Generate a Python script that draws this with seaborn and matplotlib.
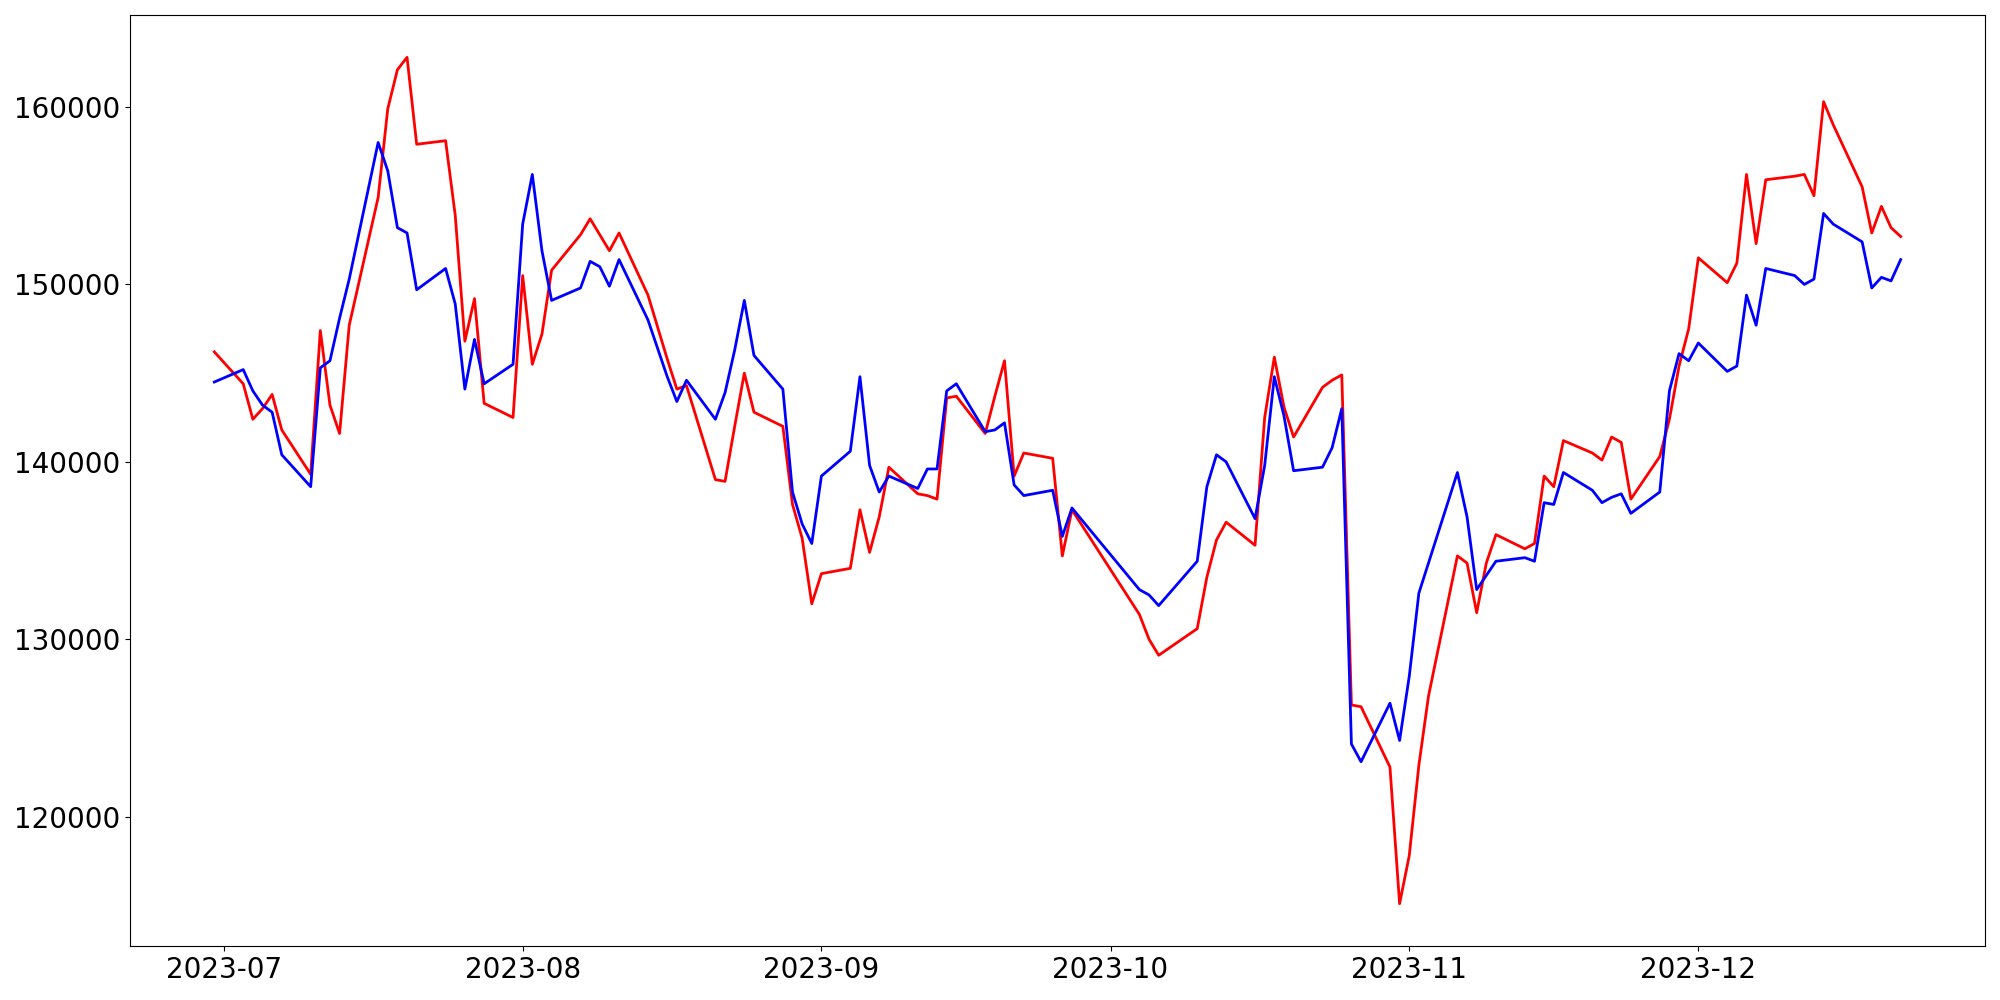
import seaborn as sns
import matplotlib
matplotlib.use("Agg")
import matplotlib.pyplot as plt
import pandas as pd
import numpy as np

# trading days (KRX calendar, holidays left out)
holidays = ["2023-08-15", "2023-09-28", "2023-09-29", "2023-10-02",
            "2023-10-03", "2023-10-09"]
dates = pd.bdate_range("2023-06-30", "2023-12-22")
dates = dates[~dates.isin(pd.to_datetime(holidays))]

red_vals = [
    146200,
    144400, 142400, 143000, 143800, 141800, 139300, 147400, 143200, 141600, 147700,
    154900, 159900, 162100, 162800, 157900, 158100, 153900, 146800, 149200, 143300,
    142500,
    150500, 145500, 147200, 150800, 152800, 153700, 152800, 151900, 152900,
    149400, 145800, 144100, 144300, 139000, 138900, 142000, 145000, 142800,
    142000, 137600, 135700, 132000,
    133700, 134000, 137300, 134900, 136900, 139700, 138200, 138100, 137900, 143600,
    143700, 141600, 143700, 145700, 139200, 140500, 140200, 134700, 137300,
    131400, 130000, 129100, 130600, 133500, 135600, 136600, 135300, 142500, 145900,
    143100, 141400, 144200, 144600, 144900, 126300, 126200, 122800, 115100,
    117800, 122900, 126800, 134700, 134300, 131500, 134300, 135900, 135100, 135400,
    139200, 138600, 141200, 140500, 140100, 141400, 141100, 137900, 140300, 142400,
    145400, 147500,
    151500, 150100, 151200, 156200, 152300, 155900, 156100, 156200, 155000, 160300,
    159000, 155500, 152900, 154400, 153200, 152700,
]

blue_vals = [
    144500,
    145200, 144000, 143200, 142800, 140400, 138600, 145300, 145700, 148100, 150300,
    158000, 156400, 153200, 152900, 149700, 150900, 148900, 144100, 146900, 144400,
    145500,
    153400, 156200, 151900, 149100, 149800, 151300, 151000, 149900, 151400,
    148000, 144800, 143400, 144600, 142400, 143900, 146300, 149100, 146000,
    144100, 138300, 136500, 135400,
    139200, 140600, 144800, 139800, 138300, 139200, 138500, 139600, 139600, 144000,
    144400, 141700, 141800, 142200, 138700, 138100, 138400, 135800, 137400,
    132800, 132500, 131900, 134400, 138600, 140400, 140000, 136800, 139800, 144800,
    142600, 139500, 139700, 140800, 143000, 124100, 123100, 126400, 124300,
    127900, 132600, 134300, 139400, 136900, 132800, 133600, 134400, 134600, 134400,
    137700, 137600, 139400, 138400, 137700, 138000, 138200, 137100, 138300, 144000,
    146100, 145700,
    146700, 145100, 145400, 149400, 147700, 150900, 150500, 150000, 150300, 154000,
    153400, 152400, 149800, 150400, 150200, 151400,
]

df = pd.DataFrame({"date": dates, "red": red_vals, "blue": blue_vals})

fig, ax = plt.subplots(figsize=(20, 10), dpi=100)
sns.lineplot(x="date", y="red", data=df, color="red", linewidth=2, ax=ax)
sns.lineplot(x="date", y="blue", data=df, color="blue", linewidth=2, ax=ax)

ax.set_xlabel("")
ax.set_ylabel("")
ax.tick_params(axis="both", labelsize=20)

plt.subplots_adjust(left=0.065, right=0.9925, top=0.985, bottom=0.054)
plt.savefig("out.png")
